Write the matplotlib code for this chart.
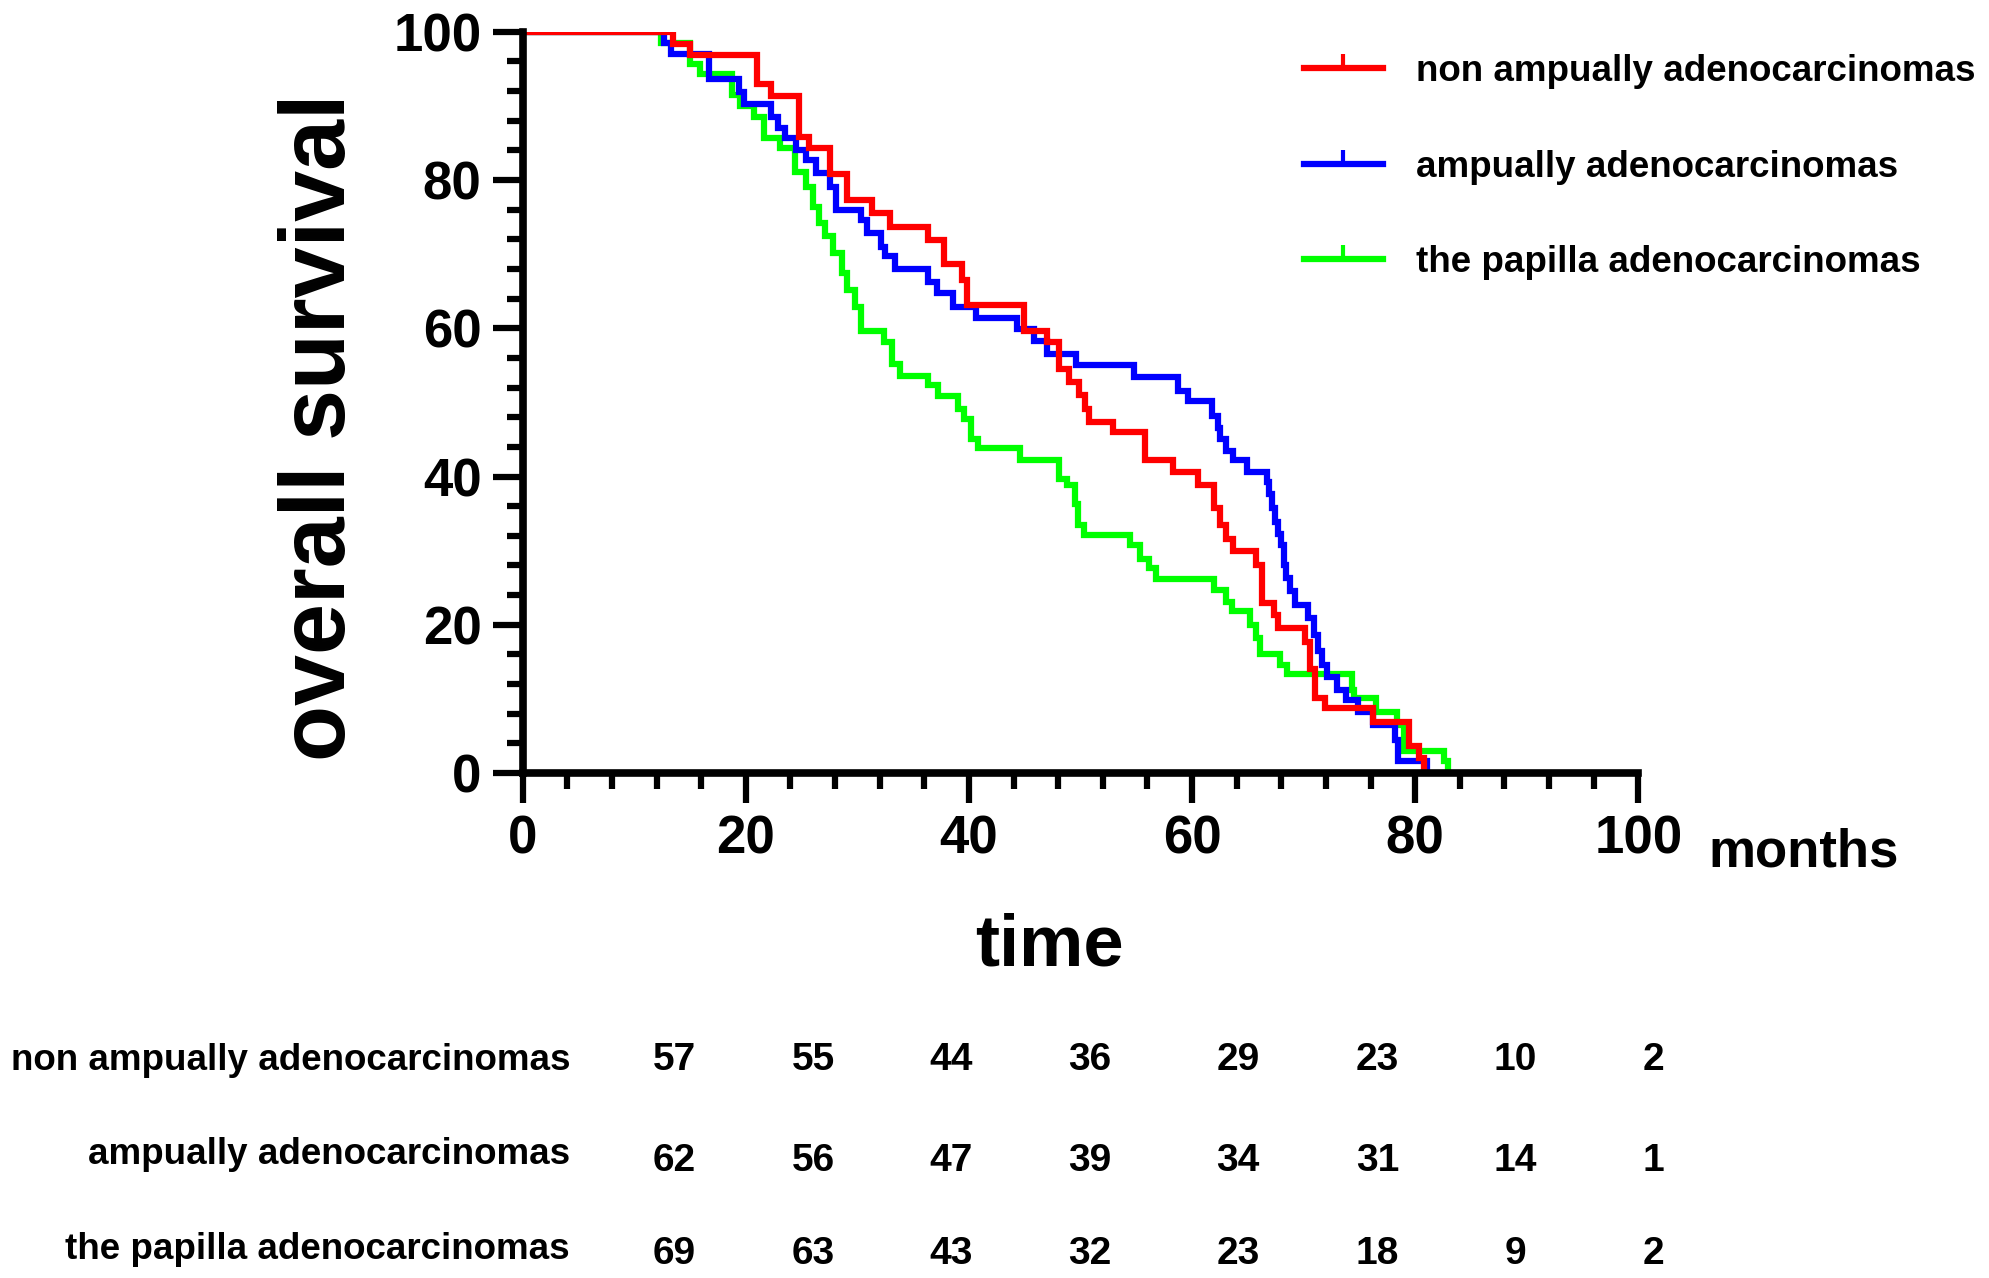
import matplotlib
matplotlib.use("Agg")
import matplotlib.pyplot as plt
from matplotlib.lines import Line2D
from matplotlib.ticker import MultipleLocator

plt.rcParams['font.family'] = ['Liberation Sans', 'DejaVu Sans']
plt.rcParams['font.weight'] = 'bold'

# ---------------- data ----------------
series_labels = ["non ampually adenocarcinomas",
                 "ampually adenocarcinomas",
                 "the papilla adenocarcinomas"]
series_colors = ["#ff0000", "#0000ff", "#00ff00"]

red_time = [0, 13.5, 15.0, 21.0, 22.3, 24.8, 25.7, 27.5, 29.1, 31.3, 32.9, 36.3, 37.8, 39.4,
            39.8, 44.9, 47.0, 48.1, 49.0, 49.9, 50.4, 50.8, 52.9, 55.8, 58.3, 60.5, 62.0, 62.5,
            63.0, 63.7, 65.7, 66.3, 67.3, 67.7, 70.1, 70.6, 71.0, 71.9, 76.2, 79.4, 80.3, 80.8]
red_surv = [100, 98.4, 96.8, 93.0, 91.3, 85.8, 84.3, 80.8, 77.3, 75.6, 73.7, 71.9, 68.6, 66.5,
            63.1, 59.6, 58.1, 54.5, 52.7, 51.0, 49.1, 47.4, 46.0, 42.2, 40.6, 38.8, 35.7, 33.4,
            31.6, 30.0, 28.0, 22.9, 21.3, 19.5, 17.7, 14.0, 10.1, 8.8, 6.9, 3.6, 2.0, 0]

blue_time = [0, 12.7, 13.3, 16.7, 19.4, 19.8, 22.3, 22.9, 23.5, 24.5, 25.4, 26.3, 27.5, 28.1,
             30.3, 30.9, 32.1, 32.5, 33.4, 36.3, 37.1, 38.6, 40.6, 44.3, 45.8, 47.0, 49.6, 54.8,
             58.7, 59.6, 61.8, 62.3, 62.5, 63.0, 63.7, 64.9, 66.7, 66.9, 67.2, 67.4, 67.7, 68.0,
             68.2, 68.4, 68.8, 69.2, 70.4, 70.9, 71.3, 71.6, 72.1, 73.0, 73.8, 74.9, 76.2, 78.2,
             78.5, 81.1]
blue_surv = [100, 98.5, 97.0, 93.6, 91.9, 90.3, 88.5, 87.0, 85.6, 84.0, 82.7, 80.9, 79.1, 76.0,
             74.6, 72.9, 71.0, 69.7, 68.0, 66.2, 64.7, 62.8, 61.4, 59.9, 58.3, 56.5, 55.0, 53.4,
             51.6, 50.2, 48.2, 46.6, 45.1, 43.5, 42.2, 40.6, 39.2, 37.7, 35.7, 33.9, 32.3, 30.7,
             28.0, 26.3, 24.5, 22.7, 20.9, 18.6, 16.4, 14.6, 13.0, 11.2, 9.9, 8.3, 6.5, 4.5,
             1.6, 0]

green_time = [0, 12.4, 15.0, 15.9, 18.8, 19.5, 20.7, 21.6, 23.1, 24.4, 25.4, 26.0, 26.6, 27.1,
              27.8, 28.6, 29.1, 29.8, 30.3, 32.4, 33.1, 33.8, 36.3, 37.2, 39.0, 39.6, 40.2, 40.8,
              44.6, 48.1, 48.8, 49.5, 49.8, 50.3, 54.4, 55.3, 56.1, 56.8, 62.0, 63.0, 63.6, 65.2,
              65.7, 66.1, 67.9, 68.5, 74.3, 74.5, 76.5, 78.4, 79.0, 82.6, 82.9]
green_surv = [100, 98.5, 95.6, 94.3, 91.4, 90.0, 88.5, 85.6, 84.3, 81.1, 79.1, 76.4, 74.2, 72.4,
              70.2, 67.5, 65.2, 62.8, 59.6, 58.1, 55.2, 53.6, 52.3, 50.9, 49.1, 47.8, 45.1, 43.8,
              42.2, 39.7, 38.8, 36.3, 33.4, 32.1, 30.7, 28.9, 27.6, 26.2, 24.7, 23.1, 21.8, 20.0,
              18.2, 16.0, 14.6, 13.3, 11.2, 10.1, 8.3, 6.5, 3.0, 1.6, 0]

x_ticks = [0, 20, 40, 60, 80, 100]
y_ticks = [0, 20, 40, 60, 80, 100]

risk_non_ampullary = [57, 55, 44, 36, 29, 23, 10, 2]
risk_ampullary = [62, 56, 47, 39, 34, 31, 14, 1]
risk_papilla = [69, 63, 43, 32, 23, 18, 9, 2]

# ---------------- layout ----------------
fig = plt.figure(figsize=(19.89, 12.78), dpi=100)
ax = fig.add_axes([0.2628, 0.3951, 0.5609, 0.5801])

curves = [(green_time, green_surv, series_colors[2]),
          (blue_time, blue_surv, series_colors[1]),
          (red_time, red_surv, series_colors[0])]
for t, s, c in curves:
    ax.step(t, s, where='post', color=c, lw=4.5, solid_joinstyle='miter')

ax.set_xlim(0, 100)
ax.set_ylim(0, 100)
ax.set_xticks(x_ticks)
ax.set_yticks(y_ticks)
ax.xaxis.set_minor_locator(MultipleLocator(4))
ax.yaxis.set_minor_locator(MultipleLocator(4))
for sp in ['top', 'right']:
    ax.spines[sp].set_visible(False)
for sp in ['left', 'bottom']:
    ax.spines[sp].set_linewidth(5.5)
ax.tick_params(which='major', length=21.6, width=4.5, direction='out', labelsize=38, pad=8)
ax.tick_params(which='minor', length=11.5, width=4.5, direction='out')
for lab in ax.get_xticklabels() + ax.get_yticklabels():
    lab.set_fontweight('bold')

fig.text(0.8587, 0.3216, 'months', ha='left', va='baseline', fontsize=38, fontweight='bold')
fig.text(0.5274, 0.2447, 'time', ha='center', va='baseline', fontsize=52, fontweight='bold')
fig.text(0.1735, 0.6655, 'overall survival', rotation=90, rotation_mode='anchor',
         ha='center', va='baseline', fontsize=66, fontweight='bold')

handles = [Line2D([], [], color=c, lw=4.5, marker=2, markersize=10, mew=3)
           for c in series_colors]
ax.legend(handles, series_labels, loc='upper left', bbox_to_anchor=(0.6555, 0.9575),
          bbox_transform=fig.transFigure, frameon=False, handlelength=2.15,
          handletextpad=0.9, labelspacing=1.64, borderpad=0, borderaxespad=0,
          numpoints=1, prop={'weight': 'bold', 'size': 26.5})

# numbers at risk table
col_x = [0.339, 0.409, 0.478, 0.548, 0.6225, 0.6925, 0.762, 0.8315]
label_y = [0.163, 0.0895, 0.0152]
num_y = [0.163, 0.0835, 0.0107]
risk_rows = [risk_non_ampullary, risk_ampullary, risk_papilla]
for i, (lab, row) in enumerate(zip(series_labels, risk_rows)):
    fig.text(0.2866, label_y[i], lab, ha='right', va='baseline', fontsize=26.5, fontweight='bold')
    for x, v in zip(col_x, row):
        fig.text(x, num_y[i], str(v), ha='center', va='baseline', fontsize=28, fontweight='bold')

fig.savefig('out.png', dpi=100)
